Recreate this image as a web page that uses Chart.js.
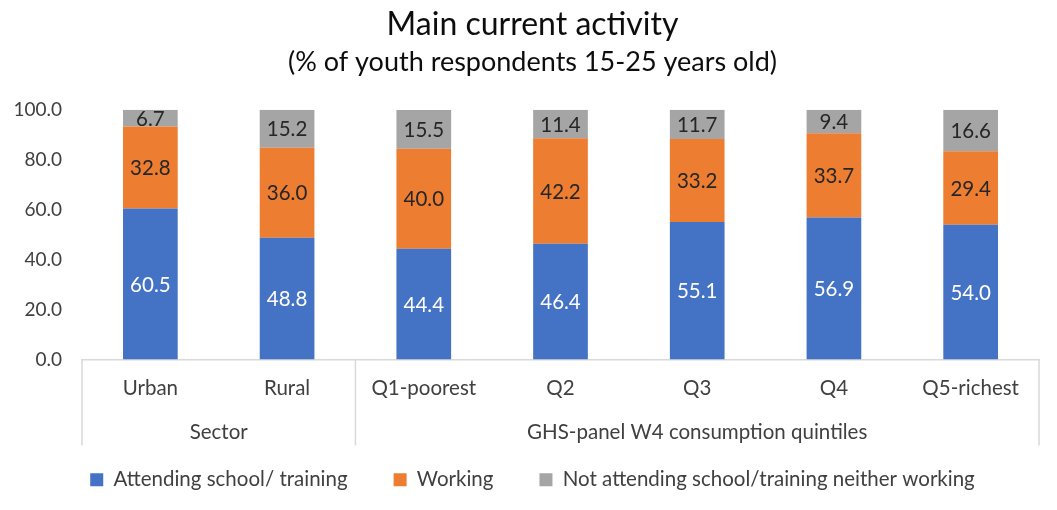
<!DOCTYPE html>
<html>
<head>
<meta charset="utf-8">
<script src="https://cdn.jsdelivr.net/npm/chart.js@4/dist/chart.umd.min.js"></script>
<style>
	html, body { margin: 0; padding: 0; background: #fff; }
	#wrap { width: 1057px; height: 510px; }
</style>
</head>
<body>
<div id="wrap"><canvas id="chart"></canvas></div>
<script>
const categories = ['Urban', 'Rural', 'Q1-poorest', 'Q2', 'Q3', 'Q4', 'Q5-richest'];
const groups = [
	{ label: 'Sector', from: 0, to: 1 },
	{ label: 'GHS-panel W4 consumption quintiles', from: 2, to: 6 }
];
const attending = [60.5, 48.8, 44.4, 46.4, 55.1, 56.9, 54.0];
const working = [32.8, 36.0, 40.0, 42.2, 33.2, 33.7, 29.4];
const neither = [6.7, 15.2, 15.5, 11.4, 11.7, 9.4, 16.6];

const FONT = 'Lato, "Noto Sans", sans-serif';
const AXIS_GREY = '#d9d9d9';
const TEXT_GREY = '#404040';

// étiquettes de valeurs au centre de chaque segment
const valueLabels = {
	id: 'valueLabels',
	afterDatasetsDraw(chart) {
		const ctx = chart.ctx;
		ctx.save();
		ctx.font = '20.5px ' + FONT;
		ctx.textAlign = 'center';
		ctx.textBaseline = 'middle';
		chart.data.datasets.forEach((ds, i) => {
			const meta = chart.getDatasetMeta(i);
			meta.data.forEach((bar, j) => {
				ctx.fillStyle = ds.labelColor;
				ctx.fillText(ds.data[j].toFixed(1), bar.x, (bar.y + bar.base) / 2 + 1);
			});
		});
		ctx.restore();
	}
};

// deuxième niveau de l'axe des catégories + séparateurs
const groupAxis = {
	id: 'groupAxis',
	afterDraw(chart) {
		const ctx = chart.ctx;
		const x = chart.scales.x;
		const top = x.top;
		const edge = i => {
			if (i < 0) return x.left;
			if (i >= categories.length - 1) return x.right;
			return (x.getPixelForValue(i) + x.getPixelForValue(i + 1)) / 2;
		};
		ctx.save();
		ctx.strokeStyle = AXIS_GREY;
		ctx.lineWidth = 1.5;
		ctx.font = '20.5px ' + FONT;
		ctx.fillStyle = TEXT_GREY;
		ctx.textAlign = 'center';
		ctx.textBaseline = 'middle';
		const seps = new Set();
		groups.forEach(g => {
			const l = edge(g.from - 1);
			const r = edge(g.to);
			seps.add(l);
			seps.add(r);
			ctx.fillText(g.label, (l + r) / 2, top + 73);
		});
		seps.forEach(px => {
			ctx.beginPath();
			ctx.moveTo(px, top);
			ctx.lineTo(px, top + 86);
			ctx.stroke();
		});
		ctx.restore();
	}
};

new Chart(document.getElementById('chart').getContext('2d'), {
	type: 'bar',
	data: {
		labels: categories,
		datasets: [
			{
				label: 'Attending school/ training',
				data: attending,
				backgroundColor: '#4472C4',
				labelColor: '#ffffff'
			},
			{
				label: 'Working',
				data: working,
				backgroundColor: '#ED7D31',
				labelColor: '#262626'
			},
			{
				label: 'Not attending school/training neither working',
				data: neither,
				backgroundColor: '#A5A5A5',
				labelColor: '#262626'
			}
		]
	},
	options: {
		responsive: true,
		maintainAspectRatio: false,
		animation: false,
		datasets: {
			bar: { categoryPercentage: 1, barPercentage: 0.4 }
		},
		layout: { padding: { left: 8, right: 0, top: 0, bottom: 10 } },
		plugins: {
			title: {
				display: true,
				text: 'Main current activity',
				color: '#0d0d0d',
				font: { family: FONT, size: 32, weight: 'normal' },
				padding: { top: 5, bottom: 0 }
			},
			subtitle: {
				display: true,
				text: '(% of youth respondents 15-25 years old)',
				color: '#0d0d0d',
				font: { family: FONT, size: 27, weight: 'normal' },
				padding: { top: 3, bottom: 31 }
			},
			legend: {
				position: 'bottom',
				maxHeight: 86,
				labels: {
					font: { family: FONT, size: 20.5 },
					color: TEXT_GREY,
					boxWidth: 13,
					boxHeight: 13,
					padding: 46
				}
			},
			tooltip: { enabled: false }
		},
		scales: {
			x: {
				stacked: true,
				grid: { display: false, drawTicks: false },
				border: { display: true, color: AXIS_GREY, width: 1.5 },
				ticks: {
					font: { family: FONT, size: 20.5 },
					color: TEXT_GREY,
					padding: 17
				},
				afterFit(scale) { scale.height = 64; }
			},
			y: {
				stacked: true,
				min: 0,
				max: 100,
				grid: { display: false, drawTicks: false },
				border: { display: false },
				ticks: {
					stepSize: 20,
					font: { family: FONT, size: 19 },
					color: TEXT_GREY,
					padding: 20,
					callback: v => v.toFixed(1)
				},
				afterFit(scale) { scale.width = 74; }
			},
			// marge droite, sans marques
			yRight: {
				position: 'right',
				display: true,
				grid: { display: false, drawTicks: false },
				border: { display: false },
				ticks: { display: false },
				afterFit(scale) { scale.width = 18; }
			}
		}
	},
	plugins: [valueLabels, groupAxis]
});
</script>
</body>
</html>
